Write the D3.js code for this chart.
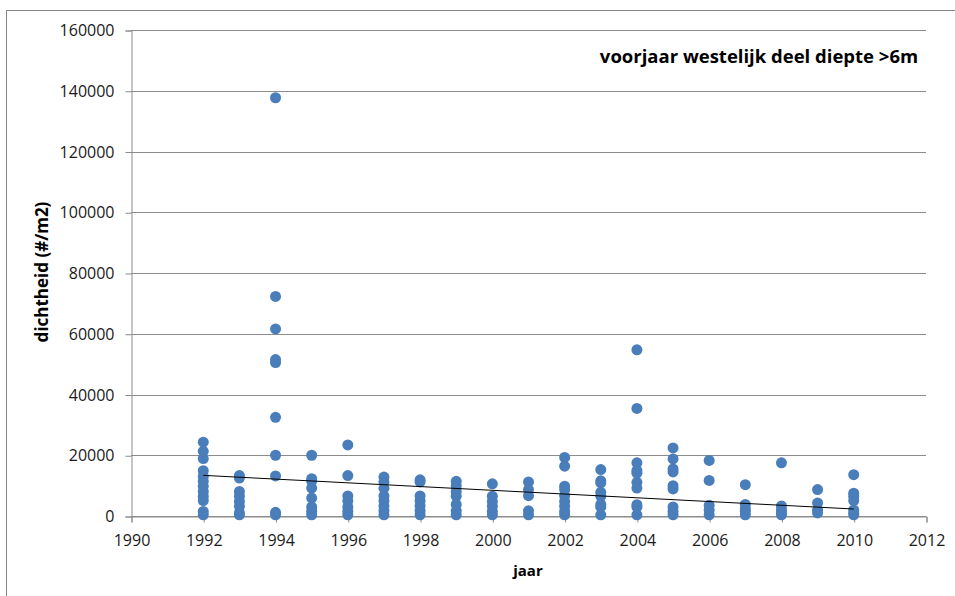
<!DOCTYPE html>
<html>
<head>
<meta charset="utf-8">
<script src="https://cdn.jsdelivr.net/npm/d3@7"></script>
<style>
	body { margin: 0; background: #fff; }
	svg { display: block; font-family: 'Open Sans', sans-serif; }
	.tick text { font-size: 16px; fill: #1a1a1a; }
	.labels { font-size: 15px; font-weight: bold; fill: #000; }
	.ylabel { font-size: 17px; }
	.title { font-size: 18.5px; font-weight: bold; fill: #000; }
</style>
</head>
<body>
<svg width="955" height="596"></svg>
<script>
// one entry per survey year, densities (#/m2)
const years = [1992, 1993, 1994, 1995, 1996, 1997, 1998, 1999, 2000, 2001,
	2002, 2003, 2004, 2005, 2006, 2007, 2008, 2009, 2010];

const densities = [
	[24300, 21300, 18900, 14900, 13000, 11400, 9800, 8100, 6500, 5100, 1500, 400],
	[13300, 12500, 8100, 6500, 4800, 3200, 1000, 400],
	[137700, 72300, 61600, 51500, 50500, 32500, 20000, 13200, 1200, 400],
	[20000, 12300, 11500, 9200, 5900, 3000, 1500, 400],
	[23400, 13300, 6600, 5000, 3000, 1500, 400],
	[12800, 11200, 9100, 6600, 5000, 3300, 1700, 400],
	[11900, 11200, 6600, 5000, 3300, 1700, 400],
	[11400, 10000, 8100, 6500, 3800, 1700, 400],
	[10600, 6500, 4800, 3200, 1500, 400],
	[11200, 8700, 6700, 1700, 400],
	[19300, 16400, 9800, 8700, 6700, 4800, 3200, 1500, 400],
	[15300, 11600, 10900, 7800, 6500, 3800, 3000, 400],
	[54700, 35400, 17500, 15000, 14100, 11100, 9200, 3700, 3000, 400],
	[22400, 18800, 15500, 14500, 10000, 8900, 3000, 1500, 400],
	[18300, 11700, 3500, 2000, 400],
	[10300, 3800, 2300, 1500, 400],
	[17500, 3300, 2000, 1000, 400],
	[8700, 4300, 2000, 1000],
	[13600, 7500, 6500, 5100, 2000, 1000, 400]
];

// linear trendline as drawn in the figure (many overlapping points near 0 are hidden)
const trendYears = [1992, 2010],
	trendValues = [13380, 2300];

const xTicks = d3.range(1990, 2013, 2),
	yTicks = d3.range(0, 160001, 20000);

const title = 'voorjaar westelijk deel diepte >6m',
	x_label = 'jaar',
	y_label = 'dichtheid (#/m2)';

let plotL = 131, plotR = 926, plotT = 30, plotB = 516;

let svg = d3.select('svg');

// outer chart border (only left/top visible in the frame)
svg.append('rect')
	.attr('x', 6.5)
	.attr('y', 10.5)
	.attr('width', 1000)
	.attr('height', 700)
	.attr('fill', 'none')
	.attr('stroke', '#868686');

let xScale = d3.scaleLinear().domain([1990, 2012]).range([plotL, plotR]),
	yScale = d3.scaleLinear().domain([0, 160000]).range([plotB, plotT]);

// flatten into points
let points = [];
years.forEach((yr, i) => {
	densities[i].forEach(v => points.push({'x': yr, 'y': v}));
});

// horizontal gridlines
svg.append('g')
	.selectAll('line')
	.data(yTicks)
	.enter()
	.append('line')
	.attr('x1', plotL)
	.attr('x2', plotR)
	.attr('y1', d => Math.round(yScale(d)) + 0.5)
	.attr('y2', d => Math.round(yScale(d)) + 0.5)
	.attr('stroke', '#8c8c8c');

let yAxis = svg.append('g')
	.attr('transform', `translate(${plotL + 0.5},0.5)`)
	.call(d3.axisLeft(yScale).tickValues(yTicks).tickFormat(d3.format('d')).tickSizeOuter(0).tickSize(6).tickPadding(11));

let xAxis = svg.append('g')
	.attr('transform', `translate(0.5,${plotB + 0.5})`)
	.call(d3.axisBottom(xScale).tickValues(xTicks).tickFormat(d3.format('d')).tickSizeOuter(0).tickSize(6).tickPadding(12));

[xAxis, yAxis].forEach(a => {
	a.select('.domain').attr('stroke', '#8c8c8c');
	a.selectAll('.tick line').attr('stroke', '#8c8c8c');
	a.selectAll('.tick text').style('font-family', "'Open Sans', sans-serif");
});

// markers
svg.append('g')
	.selectAll('circle')
	.data(points)
	.enter()
	.append('circle')
	.attr('cx', d => xScale(d.x))
	.attr('cy', d => yScale(d.y))
	.attr('r', 5.5)
	.style('fill', '#4a7ebb');

svg.append('path')
	.datum(d3.zip(trendYears, trendValues))
	.attr('d', d3.line().x(d => xScale(d[0])).y(d => yScale(d[1])))
	.attr('fill', 'none')
	.attr('stroke', '#000')
	.attr('stroke-width', 1);

// y label
svg.append('text')
	.attr('x', -272)
	.attr('y', 48)
	.attr('transform', 'rotate(-90)')
	.attr('text-anchor', 'middle')
	.attr('class', 'labels ylabel')
	.text(y_label);

// x label
svg.append('text')
	.attr('x', 528)
	.attr('y', 576)
	.attr('text-anchor', 'middle')
	.attr('class', 'labels')
	.text(x_label);

// title
svg.append('text')
	.attr('x', 759)
	.attr('y', 63)
	.attr('text-anchor', 'middle')
	.attr('class', 'title')
	.text(title);
</script>
</body>
</html>
